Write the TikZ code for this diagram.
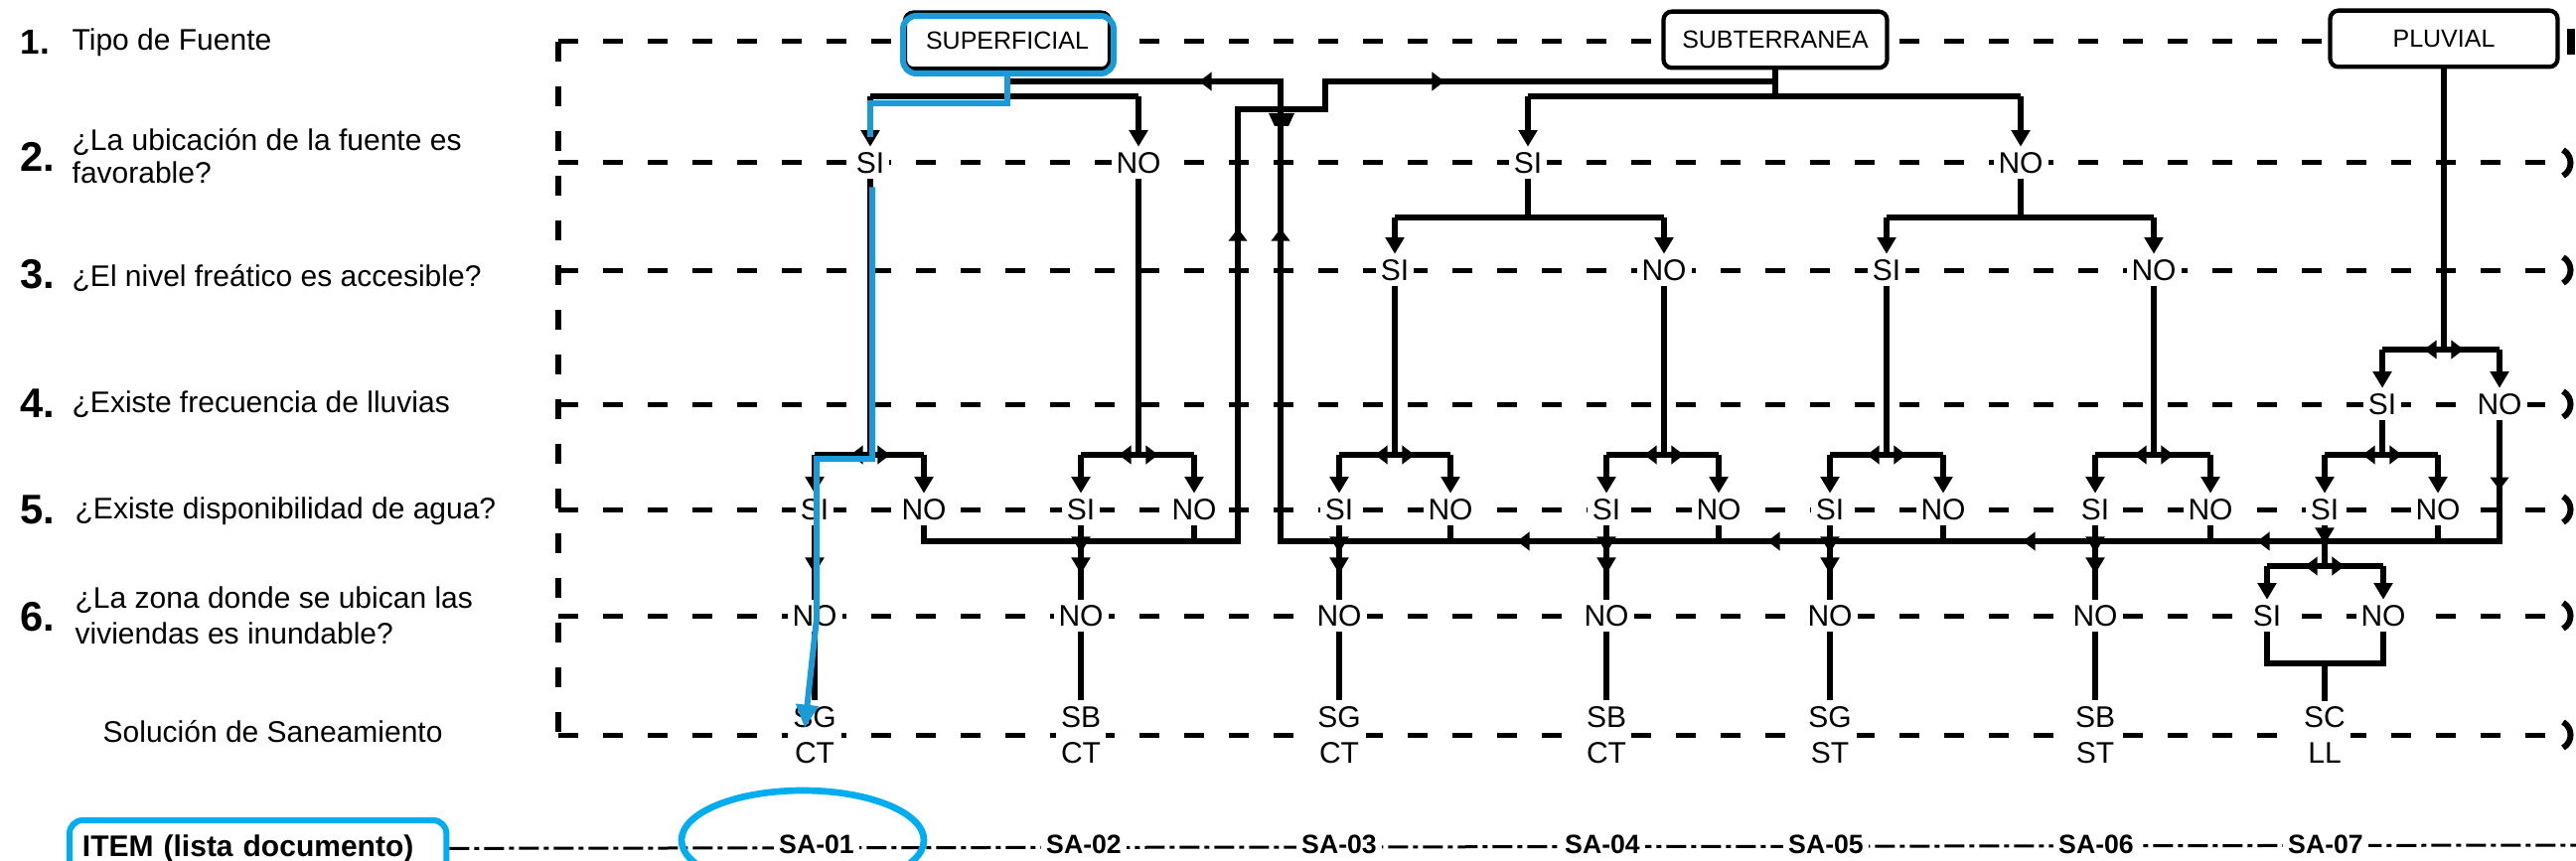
\documentclass[tikz,border=0pt]{standalone}
\usepackage{fontspec}
\setmainfont{Liberation Sans}
\usetikzlibrary{arrows.meta}
\definecolor{hlblue}{HTML}{1A9AD6}
\definecolor{cyanb}{HTML}{00AEEF}
\newcommand{\mysplit}[4]{%
  \draw[conn] (#1.south) -- (#1 |- #4);
  \draw[conn] (#2 |- #4) -- (#3 |- #4);
  \draw[dn] (#2 |- #4) -- (#2.north);
  \draw[dn] (#3 |- #4) -- (#3.north);}
\newcommand{\mymid}[2]{%
  \draw[mid] (#1 |- #2) -- ++(-20,0);
  \draw[mid] (#1 |- #2) -- ++(20,0);}
\begin{document}
\begin{tikzpicture}[x=0.3pt,y=-0.3pt,
  rowline/.style={line width=1.5pt,dash pattern=on 6pt off 7.5pt},
  conn/.style={line width=1.7pt},
  dn/.style={line width=1.7pt,-{Triangle[length=5pt,width=5.5pt]}},
  mid/.style={line width=1.7pt,-{Triangle[length=3.8pt,width=5.5pt]}},
  lbl/.style={font=\fontsize{9}{10}\selectfont,fill=white,inner sep=1.5pt},
  sol/.style={font=\fontsize{9}{11}\selectfont,fill=white,inner sep=1.5pt,align=center},
  srcbox/.style={draw,line width=1.3pt,rounded corners=2.5pt,fill=white,font=\fontsize{7.5}{9}\selectfont,minimum height=17pt,inner sep=0pt},
  qtxt/.style={font=\fontsize{9}{10}\selectfont,anchor=base west,inner sep=0pt},
  qnum/.style={font=\bfseries\fontsize{12.5}{14}\selectfont,anchor=base west,inner sep=0pt},
  salbl/.style={font=\bfseries\fontsize{8}{9}\selectfont,fill=white,inner sep=1.5pt},
  itemline/.style={line width=0.9pt,dash pattern=on 6pt off 1.5pt on 1.5pt off 1.5pt}]

\useasboundingbox (0,0) rectangle (2593,867);
\clip (0,0) rectangle (2593,867);

% ---------- left column texts
\node[qnum,font=\bfseries\fontsize{10.5}{12}\selectfont] (num1) at (20,55) {1.};
\node[qtxt] (q1) at (72,51) {Tipo de Fuente};
\node[qnum] (num2) at (20,173) {2.};
\node[qtxt] (q2a) at (72,152) {¿La ubicación de la fuente es};
\node[qtxt] (q2b) at (72,185) {favorable?};
\node[qnum] (num3) at (20,290) {3.};
\node[qtxt] (q3) at (72,288) {¿El nivel freático es accesible?};
\node[qnum] (num4) at (20,420) {4.};
\node[qtxt] (q4) at (72,415) {¿Existe frecuencia de lluvias};
\node[qnum] (num5) at (20,527) {5.};
\node[qtxt] (q5) at (75,522) {¿Existe disponibilidad de agua?};
\node[qnum] (num6) at (20,635) {6.};
\node[qtxt] (q6a) at (75,612) {¿La zona donde se ubican las};
\node[qtxt] (q6b) at (75,648) {viviendas es inundable?};
\node[qtxt] (q7) at (103,747) {Solución de Saneamiento};

% ---------- dashed row grid
\foreach \yy in {164,272,407,513,620,740} {\draw[rowline] (562,\yy) -- (2578,\yy);}
\draw[rowline] (562,42) -- (2346,42);
\draw[rowline,line width=2pt] (562,42) -- (562,742);
\foreach \yy in {164,272,407,513,620,740} {\draw[line width=1.8pt] (2580,\yy-13) .. controls (2590,\yy-7) and (2590,\yy+7) .. (2580,\yy+13);}
\draw[line width=2.6pt] (2588,29) -- (2588,55);

% ---------- ITEM row
\node[draw=cyanb,line width=1.8pt,rounded corners=4pt,font=\bfseries\fontsize{9}{10}\selectfont,text width=106pt,align=left,inner xsep=3.9pt,minimum height=17pt,anchor=north west] (item) at (67,823) {ITEM (lista documento)};
\coordinate (itemend) at (2593,851);
\draw[itemline] (item.east) -- (itemend);
\node[salbl] (sa1) at (822,850) {SA-01};
\node[salbl] (sa2) at (1091,850) {SA-02};
\node[salbl] (sa3) at (1348,850) {SA-03};
\node[salbl] (sa4) at (1613,850) {SA-04};
\node[salbl] (sa5) at (1838,850) {SA-05};
\node[salbl] (sa6) at (2110,850) {SA-06};
\node[salbl] (sa7) at (2341,850) {SA-07};
\draw[cyanb,line width=2pt] (808,846) ellipse [x radius=36.6pt,y radius=15pt];

% ---------- source boxes
\node[srcbox,minimum width=61.8pt] (sup) at (1014,41) {SUPERFICIAL};
\node[srcbox,minimum width=67.5pt] (sub) at (1787,40) {SUBTERRANEA};
\node[srcbox,minimum width=68.7pt] (plu) at (2460,39) {PLUVIAL};

% ---------- decision labels
\node[lbl] (s2a) at (876,164) {SI};
\node[lbl] (n2a) at (1146,164) {NO};
\node[lbl] (s2b) at (1538,164) {SI};
\node[lbl] (n2b) at (2034,164) {NO};
\node[lbl] (s3a) at (1404,272) {SI};
\node[lbl] (n3a) at (1675,272) {NO};
\node[lbl] (s3b) at (1899,272) {SI};
\node[lbl] (n3b) at (2168,272) {NO};
\node[lbl] (s4) at (2398,407) {SI};
\node[lbl] (n4) at (2516,407) {NO};
\node[lbl] (s5a) at (820,513) {SI};
\node[lbl] (n5a) at (930,513) {NO};
\node[lbl] (s5b) at (1088,513) {SI};
\node[lbl] (n5b) at (1202,513) {NO};
\node[lbl] (s5c) at (1348,513) {SI};
\node[lbl] (n5c) at (1460,513) {NO};
\node[lbl] (s5d) at (1617,513) {SI};
\node[lbl] (n5d) at (1730,513) {NO};
\node[lbl] (s5e) at (1842,513) {SI};
\node[lbl] (n5e) at (1956,513) {NO};
\node[lbl] (s5f) at (2109,513) {SI};
\node[lbl] (n5f) at (2225,513) {NO};
\node[lbl] (s5g) at (2340,513) {SI};
\node[lbl] (n5g) at (2454,513) {NO};
\node[lbl] (n6a) at (820,620) {NO};
\node[lbl] (n6b) at (1088,620) {NO};
\node[lbl] (n6c) at (1348,620) {NO};
\node[lbl] (n6d) at (1617,620) {NO};
\node[lbl] (n6e) at (1842,620) {NO};
\node[lbl] (n6f) at (2109,620) {NO};
\node[lbl] (s6g) at (2282,620) {SI};
\node[lbl] (n6g) at (2399,620) {NO};
\node[sol] (sol1) at (820,740) {SG\\CT};
\node[sol] (sol2) at (1088,740) {SB\\CT};
\node[sol] (sol3) at (1348,740) {SG\\CT};
\node[sol] (sol4) at (1617,740) {SB\\CT};
\node[sol] (sol5) at (1842,740) {SG\\ST};
\node[sol] (sol6) at (2109,740) {SB\\ST};
\node[sol] (sol7) at (2340,740) {SC\\LL};

% ---------- level coordinates
\coordinate (L82) at (0,82);
\coordinate (L97) at (0,97);
\coordinate (L110) at (0,110);
\coordinate (L219) at (0,219);
\coordinate (L352) at (0,352);
\coordinate (L458) at (0,458);
\coordinate (L545) at (0,545);
\coordinate (L548) at (0,548);
\coordinate (A1) at (0,557);
\coordinate (A2) at (0,578);
\coordinate (L570) at (0,570);
\coordinate (L668) at (0,668);
\coordinate (cl) at (1246,545);
\coordinate (cr) at (1289,545);
\coordinate (tp) at (1334,110);
\coordinate (xing) at (1289,110);

% ---------- tree connectors
\mysplit{sup}{s2a}{n2a}{L97}
\mysplit{sub}{s2b}{n2b}{L97}
\mysplit{s2b}{s3a}{n3a}{L219}
\mysplit{n2b}{s3b}{n3b}{L219}
\mysplit{plu}{s4}{n4}{L352} \mymid{plu}{L352}
\mysplit{s2a}{s5a}{n5a}{L458} \mymid{s2a}{L458}
\mysplit{n2a}{s5b}{n5b}{L458} \mymid{n2a}{L458}
\mysplit{s3a}{s5c}{n5c}{L458} \mymid{s3a}{L458}
\mysplit{n3a}{s5d}{n5d}{L458} \mymid{n3a}{L458}
\mysplit{s3b}{s5e}{n5e}{L458} \mymid{s3b}{L458}
\mysplit{n3b}{s5f}{n5f}{L458} \mymid{n3b}{L458}
\mysplit{s4}{s5g}{n5g}{L458} \mymid{s4}{L458}
\mysplit{s5g}{s6g}{n6g}{L570} \mymid{s5g}{L570}
\draw[dn] (s5g.south) -- (s5g |- L548);

\draw[conn] (s5a.south) -- (n6a.north);
\draw[dn] (s5a.south) -- (s5a |- A2);
\foreach \cc in {b,c,d,e,f} {
  \draw[conn] (s5\cc.south) -- (n6\cc.north);
  \draw[dn] (s5\cc.south) -- (s5\cc |- A1);
  \draw[dn] (s5\cc |- A1) -- (s5\cc |- A2);}
\foreach \cc/\kk in {a/1,b/2,c/3,d/4,e/5,f/6} {\draw[conn] (n6\cc.south) -- (sol\kk.north);}
\draw[conn] (s6g.south) -- (s6g |- L668) -- (n6g |- L668) -- (n6g.south);
\draw[conn] (sol7 |- L668) -- (sol7.north);

% ---------- left collector (to SUBTERRANEA)
\draw[conn] (n5a.south) -- (n5a |- L545) -- (cl) -- (cl |- L110) -- (tp) -- (tp |- L82) -- (sub |- L82);
\draw[conn] (n5b.south) -- (n5b |- L545);
\draw[mid] (cl) ++(0,-295) -- ++(0,-20);
\draw[mid] (tp |- L82) ++(100,0) -- ++(20,0);

% ---------- right collector (to SUPERFICIAL)
\draw[conn] (n4.south) -- (n4 |- L545) -- (cr) -- (cr |- L82) -- (sup |- L82);
\foreach \cc in {c,d,e,f,g} {\draw[conn] (n5\cc.south) -- (n5\cc |- L545);}
\draw[mid] (n4.south) ++(0,50) -- ++(0,20);
\draw[mid] (cr) ++(0,-295) -- ++(0,-20);
\draw[mid] (sup |- L82) ++(213,0) -- ++(-20,0);
\foreach \dx in {258,510,767,1003} {\draw[mid] (cr) ++(\dx,0) -- ++(-20,0);}
\fill (xing) ++(-12,4) -- ++(26,0) -- ++(-6,13) -- ++(-14,0) -- cycle;

% ---------- blue highlight
\draw[hlblue,line width=1.8pt,rounded corners=4pt] (909,16) rectangle (1121,74);
\coordinate (bl1) at (1014,104);
\coordinate (bl2) at (876,104);
\coordinate (bl3) at (876,138);
\coordinate (bl4) at (878,462);
\coordinate (bl5) at (822,462);
\coordinate (bl6) at (822,623);
\coordinate (bltip) at (810,733);
\draw[hlblue,line width=1.8pt] (sup.south) -- (bl1) -- (bl2) -- (bl3);
\draw[hlblue,line width=1.8pt,-{Triangle[length=7pt,width=6.5pt]}] (s2a.south) ++(2,8) -- (bl4) -- (bl5) -- (bl6) -- (bltip);
\end{tikzpicture}
\end{document}
